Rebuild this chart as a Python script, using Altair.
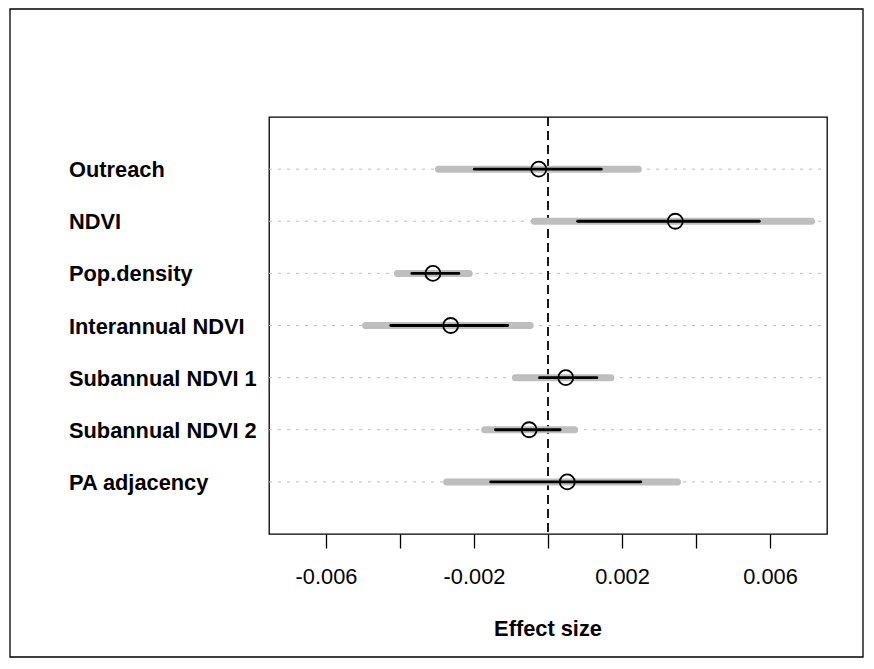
import altair as alt
import pandas as pd

# ---- data ----
labels = ["Outreach", "NDVI", "Pop.density", "Interannual NDVI",
          "Subannual NDVI 1", "Subannual NDVI 2", "PA adjacency"]
estimate = [-0.00025, 0.00344, -0.00311, -0.00263, 0.00048, -0.00051, 0.00052]
lo_outer = [-0.00296, -0.00037, -0.00407, -0.00493, -0.00088, -0.00171, -0.00274]
hi_outer = [0.00244, 0.00712, -0.00213, -0.00048, 0.00170, 0.00072, 0.00350]
lo_inner = [-0.00199, 0.00080, -0.00368, -0.00425, -0.00023, -0.00142, -0.00155]
hi_inner = [0.00144, 0.00571, -0.00241, -0.00109, 0.00132, 0.00033, 0.00251]
tick_values = [-0.006, -0.004, -0.002, 0.0, 0.002, 0.004, 0.006]
x_title = "Effect size"

n = len(labels)
df = pd.DataFrame({
    "label": labels,
    "row": [n - i for i in range(n)],
    "est": estimate,
    "lo95": lo_outer, "hi95": hi_outer,
    "lo50": lo_inner, "hi50": hi_inner,
})

W, H = 558, 417
FONT = "Liberation Sans"
FS = 21.8

xscale = alt.Scale(domain=[-0.00754, 0.00754], nice=False, zero=False)
yscale = alt.Scale(domain=[0, n + 1], nice=False, zero=False)

label_expr = ("(abs(datum.value) < 1e-9 || abs(abs(datum.value) - 0.004) < 1e-9) ? '' : "
              "(datum.value < 0 ? '-' : '') + format(abs(datum.value), '.3f')")

xaxis = alt.Axis(values=tick_values, labelExpr=label_expr, title=None, grid=False,
                 domain=False, ticks=True, tickSize=14, tickColor="black", tickWidth=1.3,
                 labelFont=FONT, labelFontSize=FS, labelColor="black", labelPadding=18,
                 labelFlush=False, labelOverlap=False)

base = alt.Chart(df)

grid = base.mark_rule(color="#bebebe", strokeDash=[3, 6], strokeWidth=1).encode(
    y=alt.Y("row:Q", scale=yscale, axis=None),
    x=alt.value(0), x2=alt.value(W))

zero = alt.Chart(pd.DataFrame({"v": [0.0]})).mark_rule(
    color="black", strokeDash=[9, 5], strokeWidth=1.8).encode(
    x=alt.X("v:Q", scale=xscale, axis=xaxis))

outer = base.mark_rule(color="#bebebe", strokeWidth=7, strokeCap="round").encode(
    x=alt.X("lo95:Q", scale=xscale, axis=xaxis), x2="hi95:Q",
    y=alt.Y("row:Q", scale=yscale, axis=None))

inner = base.mark_rule(color="black", strokeWidth=2.8, strokeCap="round").encode(
    x=alt.X("lo50:Q", scale=xscale, axis=xaxis), x2="hi50:Q",
    y=alt.Y("row:Q", scale=yscale, axis=None))

points = base.mark_point(shape="circle", filled=False, color="black",
                         strokeWidth=1.8, size=225, opacity=1).encode(
    x=alt.X("est:Q", scale=xscale, axis=xaxis),
    y=alt.Y("row:Q", scale=yscale, axis=None))

row_labels = base.mark_text(align="left", baseline="middle", font=FONT,
                            fontSize=FS, fontWeight="bold", color="black", dy=1).encode(
    x=alt.value(-200),
    y=alt.Y("row:Q", scale=yscale, axis=None),
    text="label:N")

title = alt.Chart(pd.DataFrame({"t": [x_title]})).mark_text(
    align="center", baseline="alphabetic", font=FONT, fontSize=FS,
    fontWeight="bold", color="black").encode(
    x=alt.value(279), y=alt.value(519), text="t:N")

frame = alt.Chart(pd.DataFrame({"f": [1]})).mark_rect(
    fillOpacity=0, stroke="black", strokeWidth=1.3).encode(
    x=alt.value(-259), x2=alt.value(594), y=alt.value(-108), y2=alt.value(540))

chart = alt.layer(grid, zero, outer, inner, points, row_labels, title, frame).properties(
    width=W, height=H, autosize="none",
    padding={"left": 261, "top": 109, "right": 39, "bottom": 124},
    background="white",
).configure_view(stroke="black", strokeWidth=1.3)

chart.save("out.html", embed_options={"renderer": "svg", "actions": False})
